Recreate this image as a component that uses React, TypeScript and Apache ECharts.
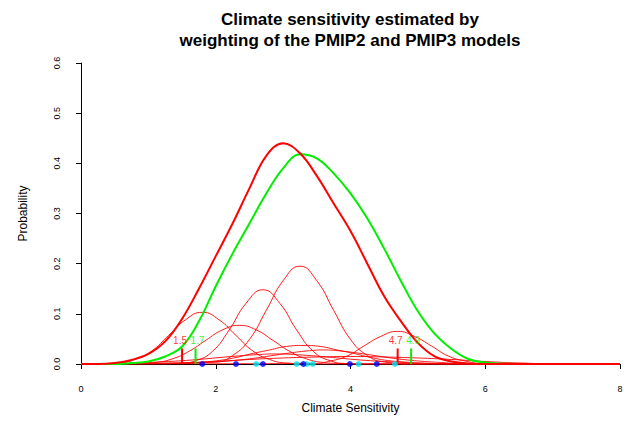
import * as React from "react";
import * as echarts from "echarts";
import { useEffect, useRef } from "react";

const xs = [0, 0.25, 0.5, 0.75, 1, 1.25, 1.5, 1.75, 2, 2.25, 2.5, 2.75, 3, 3.25, 3.5, 3.75, 4, 4.25, 4.5, 4.75, 5, 5.25, 5.5, 5.75, 6, 6.5, 7, 7.5, 8];
const redMain = [0, 0, 0.002, 0.008, 0.02, 0.045, 0.09, 0.15, 0.215, 0.28, 0.35, 0.415, 0.44, 0.42, 0.375, 0.32, 0.265, 0.2, 0.135, 0.085, 0.042, 0.015, 0.005, 0.001, 0, 0, 0, 0, 0];
const greenMain = [0, 0, 0, 0.002, 0.005, 0.015, 0.035, 0.085, 0.155, 0.22, 0.28, 0.34, 0.39, 0.418, 0.41, 0.38, 0.34, 0.29, 0.23, 0.165, 0.105, 0.06, 0.03, 0.01, 0.003, 0, 0, 0, 0];

// component curves: [x, y]
const compA = [[0, 0], [0.55, 0.002], [0.8, 0.009], [1.05, 0.026], [1.3, 0.057], [1.55, 0.088], [1.8, 0.103], [2.05, 0.088], [2.3, 0.057], [2.55, 0.026], [2.8, 0.009], [3.05, 0.002], [3.5, 0], [8, 0]];
const compB = [[0, 0], [0.85, 0.001], [1.1, 0.003], [1.35, 0.01], [1.6, 0.025], [1.85, 0.047], [2.1, 0.068], [2.35, 0.077], [2.6, 0.068], [2.85, 0.047], [3.1, 0.025], [3.35, 0.01], [3.6, 0.003], [3.85, 0.001], [4.3, 0], [8, 0]];
const compC = [[0, 0], [1.45, 0.001], [1.7, 0.0065], [1.95, 0.025], [2.2, 0.068], [2.45, 0.121], [2.7, 0.148], [2.95, 0.121], [3.2, 0.068], [3.45, 0.025], [3.7, 0.0065], [3.95, 0.001], [4.4, 0], [8, 0]];
const compD = [[0, 0], [2.0, 0.004], [2.25, 0.017], [2.5, 0.049], [2.75, 0.107], [3.0, 0.166], [3.25, 0.195], [3.5, 0.166], [3.75, 0.107], [4.0, 0.049], [4.25, 0.017], [4.5, 0.004], [5.0, 0], [8, 0]];
const compE = [[0, 0], [3.45, 0.001], [3.7, 0.006], [3.95, 0.016], [4.2, 0.036], [4.45, 0.055], [4.7, 0.065], [4.95, 0.055], [5.2, 0.036], [5.45, 0.016], [5.7, 0.006], [5.95, 0.001], [6.4, 0], [8, 0]];
const compF = [[0, 0], [1.3, 0.001], [1.55, 0.002], [1.8, 0.004], [2.05, 0.007], [2.3, 0.013], [2.55, 0.021], [2.8, 0.028], [3.05, 0.035], [3.3, 0.037], [3.55, 0.035], [3.8, 0.028], [4.05, 0.021], [4.3, 0.013], [4.55, 0.007], [4.8, 0.004], [5.05, 0.002], [5.3, 0.001], [6, 0], [8, 0]];
const compG = [[0, 0], [1.6, 0.001], [1.85, 0.003], [2.1, 0.005], [2.35, 0.008], [2.6, 0.012], [2.85, 0.017], [3.1, 0.022], [3.35, 0.026], [3.6, 0.028], [3.85, 0.026], [4.1, 0.022], [4.35, 0.017], [4.6, 0.012], [4.85, 0.008], [5.1, 0.005], [5.35, 0.003], [5.6, 0.001], [6.3, 0], [8, 0]];
const compH = [[0, 0], [0.65, 0.001], [1.15, 0.004], [1.65, 0.008], [2.15, 0.014], [2.65, 0.019], [2.9, 0.02], [3.15, 0.019], [3.65, 0.014], [4.15, 0.008], [4.65, 0.004], [5.15, 0.001], [6, 0], [8, 0]];
const compI = [[0, 0], [1.5, 0.002], [2.0, 0.005], [2.5, 0.009], [3.0, 0.012], [3.5, 0.014], [4.0, 0.015], [4.5, 0.014], [5.0, 0.012], [5.5, 0.009], [6.0, 0.005], [6.5, 0.002], [7.2, 0], [8, 0]];
const components = [compA, compB, compC, compD, compE, compF, compG, compH, compI];

const blueDots = [1.8, 2.3, 2.7, 3.3, 3.99, 4.39];
const cyanDots = [2.6, 3.2, 3.35, 3.44, 4.12, 4.66];
const redTicks = [1.5, 4.7];
const greenTicks = [1.7, 4.9];

const RED = "#ff0000";
const GREEN = "#00ee00";

const App = () => {
  const chartRef = useRef<HTMLDivElement>(null);

  useEffect(() => {
    if (!chartRef.current) return;
    const chart = echarts.init(chartRef.current, null, { renderer: "svg" });
    const font = "Liberation Sans, Arial, sans-serif";

    const series: any[] = [];
    components.forEach((c) => {
      series.push({ type: "line", data: c, smooth: 0.5, symbol: "none", lineStyle: { color: RED, width: 0.9 }, z: 2 });
    });
    series.push({ type: "line", data: xs.map((x, i) => [x, greenMain[i]]), smooth: 0.4, symbol: "none", lineStyle: { color: GREEN, width: 2 }, z: 3 });
    series.push({ type: "line", data: xs.map((x, i) => [x, redMain[i]]), smooth: 0.4, symbol: "none", lineStyle: { color: RED, width: 2 }, z: 4 });
    const tick = (v: number, color: string, dx: number) => {
      series.push({ type: "line", data: [[v, 0], [v, 0.031]], symbol: "none", lineStyle: { color, width: 2 }, z: 5 });
      series.push({
        type: "scatter", data: [[v, 0.036]], symbolSize: 0, z: 6,
        label: { show: true, position: "top", offset: [dx, 0], formatter: String(v), color, fontSize: 10, fontFamily: font, distance: 0 },
      });
    };
    redTicks.forEach((v) => tick(v, RED, -2));
    greenTicks.forEach((v) => tick(v, GREEN, 2));
    series.push({ type: "scatter", data: cyanDots.map((v) => [v, 0]), symbolSize: 6, itemStyle: { color: "#00e5ee" }, z: 7 });
    series.push({ type: "scatter", data: blueDots.map((v) => [v, 0]), symbolSize: 6, itemStyle: { color: "#0000ff" }, z: 8 });

    chart.setOption({
      animation: false,
      title: {
        text: "Climate sensitivity estimated by\nweighting of the PMIP2 and PMIP3 models",
        left: 337, top: -4, textAlign: "center",
        textStyle: { fontFamily: font, fontSize: 17, fontWeight: "bold", color: "#000", lineHeight: 21 },
      },
      grid: { left: 73, right: 14, top: 55, bottom: 41 },
      xAxis: {
        type: "value", min: 0, max: 8, interval: 2, offset: 12,
        name: "Climate Sensitivity", nameLocation: "middle", nameGap: 26,
        nameTextStyle: { fontFamily: font, fontSize: 12, color: "#000" },
        axisLine: { show: true, lineStyle: { color: "#000" } },
        axisTick: { show: true, length: 5, lineStyle: { color: "#000" } },
        axisLabel: { fontFamily: font, fontSize: 9, color: "#000", margin: 8 },
        splitLine: { show: false },
      },
      yAxis: {
        type: "value", min: 0, max: 0.6, interval: 0.1, offset: 12,
        name: "Probability", nameLocation: "middle", nameGap: 40,
        nameTextStyle: { fontFamily: font, fontSize: 12, color: "#000" },
        axisLine: { show: true, lineStyle: { color: "#000" } },
        axisTick: { show: true, length: 5, lineStyle: { color: "#000" } },
        axisLabel: { fontFamily: font, fontSize: 9, color: "#000", rotate: 90, margin: 8, formatter: (v: number) => (v === 0 ? "0.0" : String(v)) },
        splitLine: { show: false },
      },
      series,
    });
    return () => chart.dispose();
  }, []);

  return <div ref={chartRef} style={{ width: 626, height: 411 }} />;
};

export default App;
